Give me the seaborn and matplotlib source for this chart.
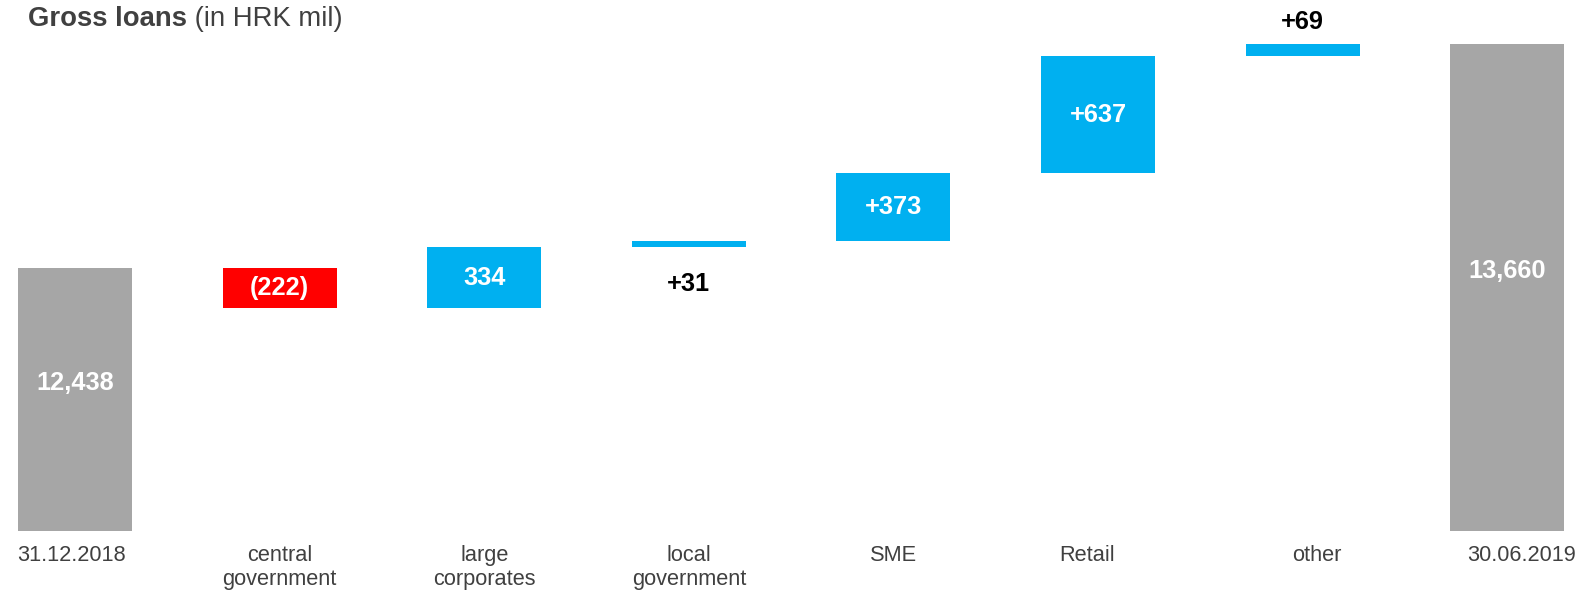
import matplotlib
matplotlib.use("Agg")
import matplotlib.pyplot as plt
from matplotlib import transforms
import seaborn as sns
import numpy as np

# Waterfall data (HRK mil)
categories = ["31.12.2018", "central\ngovernment", "large\ncorporates", "local\ngovernment",
              "SME", "Retail", "other", "30.06.2019"]
start_value = 12438
changes = [-222, 334, 31, 373, 637, 69]
end_value = 13660
value_labels = ["12,438", "(222)", "334", "+31", "+373", "+637", "+69", "13,660"]

GRAY = "#A6A6A6"
BLUE = "#00B0F0"
RED = "#FF0000"
TEXT = "#404040"

sns.set_theme(style="white")
plt.rcParams["font.family"] = ["Liberation Sans", "DejaVu Sans"]

# floating bar geometry
running = np.cumsum([start_value] + changes)
bottoms, heights, colors = [0], [start_value], [GRAY]
for i, c in enumerate(changes):
    prev = running[i]
    bottoms.append(min(prev, prev + c))
    heights.append(abs(c))
    colors.append(BLUE if c > 0 else RED)
bottoms.append(0)
heights.append(end_value)
colors.append(GRAY)
tops = [b + h for b, h in zip(bottoms, heights)]

fig = plt.figure(figsize=(15.88, 5.91), dpi=100)
ax = fig.add_axes([0.0, 0.1015, 1.0, 0.848])

sns.barplot(x=categories, y=heights, bottom=bottoms, color=GRAY,
            width=0.557, saturation=1.0, linewidth=0, ax=ax)
for patch, col in zip(ax.patches, colors):
    patch.set_facecolor(col)
    patch.set_edgecolor("none")

ax.set_xlim(-0.367, 7.395)
ax.set_ylim(11000, 13736)
sns.despine(ax=ax, left=True, bottom=True)
ax.set_yticks([])
ax.set_xticks([])
ax.set_xlabel("")
ax.set_ylabel("")

# category labels under the bars, with small horizontal nudges (in pixels)
label_nudge = {0: -4, 5: -11, 6: 14, 7: 14}
for i, cat in enumerate(categories):
    tr = ax.get_xaxis_transform() + transforms.ScaledTranslation(
        label_nudge.get(i, 0) / 100, 0, fig.dpi_scale_trans)
    ax.text(i, -0.028, cat, transform=tr, ha="center", va="top", fontsize=15.7,
            color=TEXT, linespacing=1.2)

# value labels
LABEL_BASE = 11175
for i, txt in enumerate(value_labels):
    if i in (0, len(value_labels) - 1):
        y = (tops[i] + LABEL_BASE) / 2
        ax.text(i, y, txt, ha="center", va="center", color="white",
                fontsize=18.3, fontweight="bold")
    elif heights[i] < 100:
        if txt == "+31":
            ax.text(i, bottoms[i] - 200, txt, ha="center", va="center", color="black",
                    fontsize=18.3, fontweight="bold")
        else:
            ax.text(i, tops[i] + 120, txt, ha="center", va="center", color="black",
                    fontsize=18.3, fontweight="bold")
    else:
        ax.text(i, bottoms[i] + heights[i] / 2, txt, ha="center", va="center",
                color="white", fontsize=18.3, fontweight="bold")

# title: bold part followed by the unit in regular weight
t1 = fig.text(28 / 1588, 1 - 19 / 591, "Gross loans", ha="left", va="center",
              fontsize=19.8, fontweight="bold", color=TEXT)
fig.canvas.draw()
bb = t1.get_window_extent()
fig.text(bb.x1 / fig.bbox.width, 1 - 19 / 591, " (in HRK mil)", ha="left", va="center",
         fontsize=19.8, color=TEXT)

fig.savefig("out.png", dpi=100)
